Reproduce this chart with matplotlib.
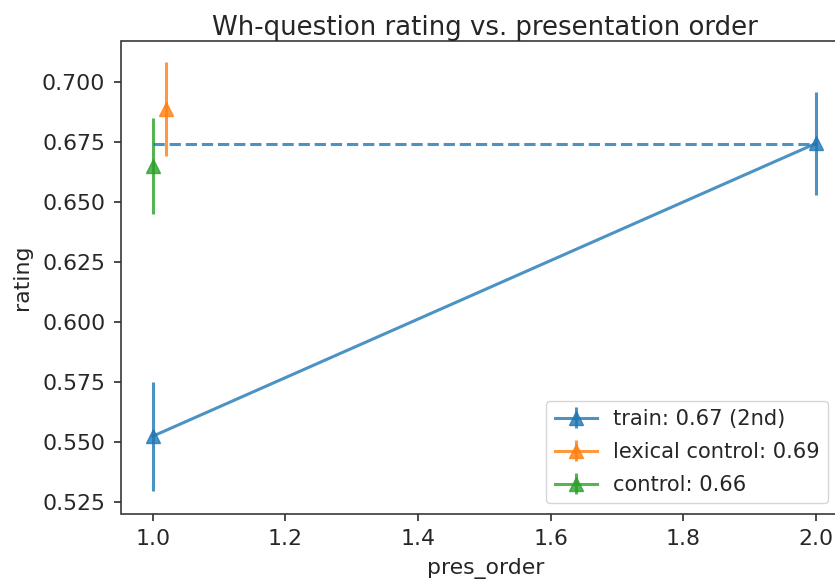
import matplotlib
matplotlib.use("Agg")
import matplotlib.pyplot as plt

# data
train_x = [1.0, 2.0]
train_y = [0.5523, 0.6743]
train_err = [0.0227, 0.0215]

lex_x = [1.02]
lex_y = [0.6887]
lex_err = [0.0197]

ctrl_x = [1.0]
ctrl_y = [0.6648]
ctrl_err = [0.0200]

labels = ["train: 0.67 (2nd)", "lexical control: 0.69", "control: 0.66"]
ref_level = 0.674

S = 1.46  # line scale
F = 1.58  # font scale
plt.rcParams.update({
    "font.size": 10 * F,
    "axes.linewidth": 0.8 * S,
    "xtick.major.width": 0.8 * S,
    "ytick.major.width": 0.8 * S,
    "xtick.major.size": 3.5 * S,
    "ytick.major.size": 3.5 * S,
    "xtick.major.pad": 6.0,
    "ytick.major.pad": 6.5,
    "text.color": "#262626",
    "axes.labelcolor": "#262626",
    "xtick.color": "#262626",
    "ytick.color": "#262626",
    "axes.edgecolor": "#333333",
})

fig = plt.figure(figsize=(8.35, 5.88), dpi=100)
W, H = 835, 588
left, right, top, bottom = 121.5, 849, 41, 514
ax = fig.add_axes([left / W, 1 - bottom / H, (right - left) / W, (bottom - top) / H])

alpha = 0.8
lw = 1.5 * S
ms = 6.5 * S
ax.errorbar(train_x, train_y, yerr=train_err, marker="^", color="tab:blue", alpha=alpha,
            lw=lw, elinewidth=lw, ms=ms, label=labels[0])
ax.errorbar(lex_x, lex_y, yerr=lex_err, marker="^", color="tab:orange", alpha=alpha,
            lw=lw, elinewidth=lw, ms=ms, label=labels[1])
ax.errorbar(ctrl_x, ctrl_y, yerr=ctrl_err, marker="^", color="tab:green", alpha=alpha,
            lw=lw, elinewidth=lw, ms=ms, label=labels[2])
ax.plot([train_x[0], train_x[1]], [ref_level, ref_level], ls="--", color="tab:blue",
        alpha=alpha, lw=lw)

ax.set_xlim(0.953, 2.05)
ax.set_ylim(0.5199, 0.7170)
ax.set_xticks([1.0, 1.2, 1.4, 1.6, 1.8, 2.0])
ax.set_yticks([0.525, 0.550, 0.575, 0.600, 0.625, 0.650, 0.675, 0.700])
ax.set_yticklabels(["0.525", "0.550", "0.575", "0.600", "0.625", "0.650", "0.675", "0.700"])
ax.set_xlabel("pres_order", labelpad=6)
ax.set_ylabel("rating", labelpad=7)
ax.set_title("Wh-question rating vs. presentation order", fontsize=12 * 1.56, pad=1)

ax.legend(loc="lower right", bbox_to_anchor=(0, 0, (832 + 7 - left) / (right - left), 1),
          bbox_transform=ax.transAxes, fontsize=10 * 1.515, labelspacing=0.62)

fig.savefig("out.png", dpi=100)
